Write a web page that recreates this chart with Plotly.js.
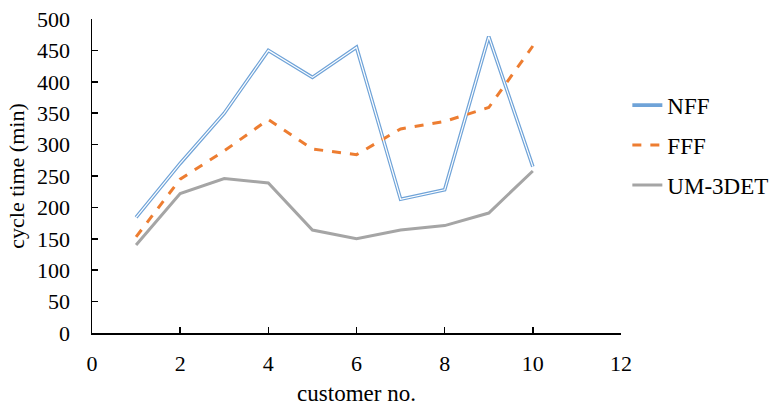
<!DOCTYPE html>
<html>
<head>
<meta charset="utf-8">
<script src="https://cdn.plot.ly/plotly-3.0.1.min.js"></script>
<style>html,body{margin:0;padding:0;background:#fff;}#chart{width:779px;height:410px;}</style>
</head>
<body>
<div id="chart"></div>
<script>
const customers = [1, 2, 3, 4, 5, 6, 7, 8, 9, 10];
const nff = [184, 270, 350, 450, 407, 455, 213, 228, 472, 265];
const fff = [153, 245, 290, 340, 293, 284, 325, 337, 359, 457];
const um3det = [140, 222, 246, 239, 164, 150, 164, 171, 191, 258];
const xTicks = [0, 2, 4, 6, 8, 10, 12];
const yTicks = [0, 50, 100, 150, 200, 250, 300, 350, 400, 450, 500];

const font = "Liberation Serif, Times New Roman, serif";

const traces = [
  {x: customers, y: nff, name: 'NFF', mode: 'lines', legendgroup: 'a',
   line: {color: '#6FA3D8', width: 3.6}},
  {x: customers, y: fff, name: 'FFF', mode: 'lines', legendgroup: 'b',
   line: {color: '#ED7D31', width: 3, dash: 'dash'}},
  {x: customers, y: um3det, name: 'UM-3DET', mode: 'lines', legendgroup: 'c',
   line: {color: '#A5A5A5', width: 3}},
  {x: customers, y: nff, name: 'NFF inner', mode: 'lines', showlegend: false,
   line: {color: '#FFFFFF', width: 1.2}, hoverinfo: 'skip'}
];

const layout = {
  width: 779, height: 410,
  margin: {l: 92, r: 158, t: 19, b: 77, autoexpand: false},
  paper_bgcolor: '#fff', plot_bgcolor: '#fff',
  font: {family: font, color: '#000', size: 22},
  showlegend: true,
  legend: {x: 1.012, xanchor: 'left', y: 0.794, yanchor: 'top', xref: 'paper',
           font: {family: font, size: 23, color: '#000'},
           traceorder: 'grouped', tracegroupgap: 7, bgcolor: 'rgba(0,0,0,0)'},
  xaxis: {range: [0, 12], tickvals: xTicks, ticktext: xTicks.map(String),
          showgrid: false, zeroline: false, showline: true, linecolor: '#000', linewidth: 1.5,
          ticks: 'inside', ticklen: 6, tickwidth: 1.5, tickcolor: '#000',
          ticklabelstandoff: 10,
          tickfont: {family: font, size: 22, color: '#000'},
          title: {text: 'customer no.', font: {family: font, size: 23, color: '#000'}, standoff: 10}},
  yaxis: {range: [0, 500], tickvals: yTicks, ticktext: yTicks.map(String),
          showgrid: false, zeroline: false, showline: true, linecolor: '#000', linewidth: 1.5,
          ticks: 'inside', ticklen: 6, tickwidth: 1.5, tickcolor: '#000',
          ticklabelstandoff: 16,
          tickfont: {family: font, size: 22, color: '#000'},
          title: {text: 'cycle time (min)', font: {family: font, size: 22, color: '#000'}, standoff: 6}}
};

Plotly.newPlot('chart', traces, layout, {displayModeBar: false, staticPlot: true});
</script>
</body>
</html>
